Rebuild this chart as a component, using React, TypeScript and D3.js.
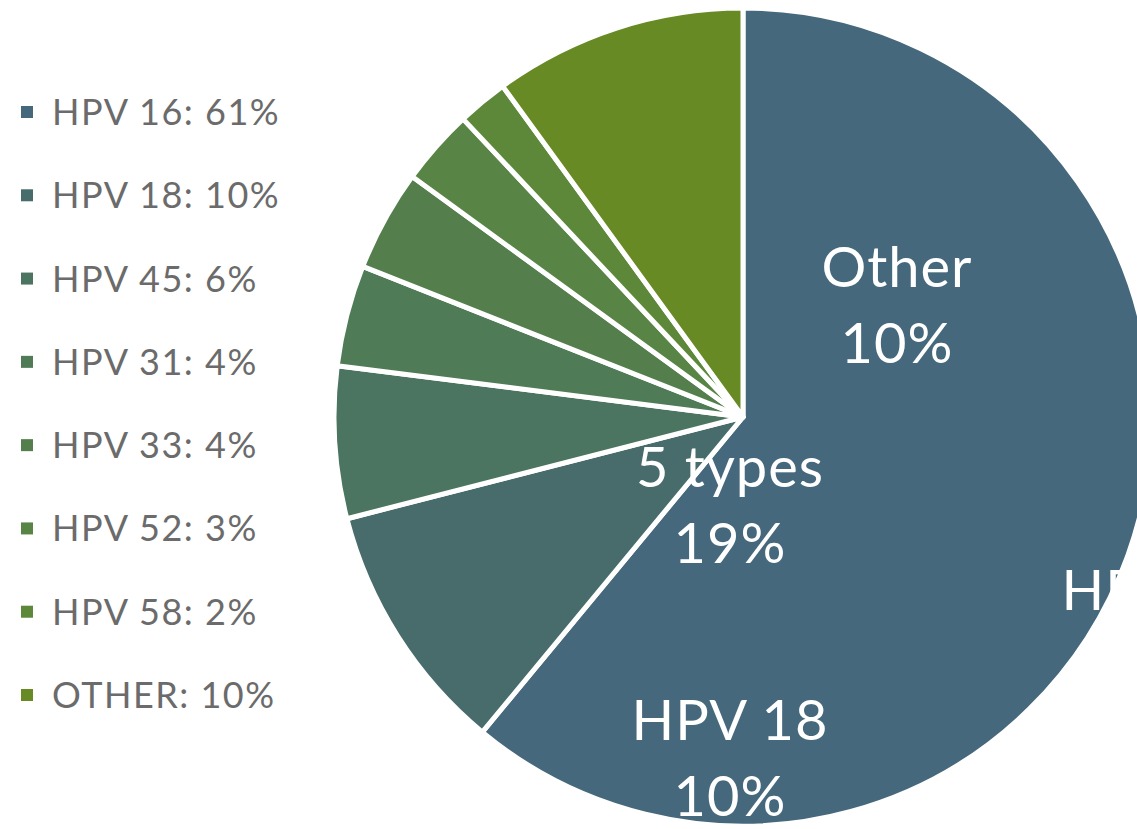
import React from "react";
import * as d3 from "d3";

const categories = ["HPV 16", "HPV 18", "HPV 45", "HPV 31", "HPV 33", "HPV 52", "HPV 58", "Other"];
const legendLabels = ["HPV 16: 61%", "HPV 18: 10%", "HPV 45: 6%", "HPV 31: 4%", "HPV 33: 4%", "HPV 52: 3%", "HPV 58: 2%", "OTHER: 10%"];
const values = [61, 10, 6, 4, 4, 3, 2, 10];
const colors = ["#46687c", "#476c6b", "#4b7560", "#4f7c56", "#547f4d", "#588445", "#5d883a", "#678a24"];

// overlay data labels (from the summarized chart)
const overlayLines = [
  ["Other", "10%"],
  ["5 types", "19%"],
  ["HPV 18", "10%"],
  ["HPV 16", "61%"],
];
const overlayPos = [
  [897, 287],
  [730, 487],
  [730, 740],
  [1160, 610],
];

const W = 1137;
const H = 829;
const cx = 743;
const cy = 417;
const R = 409;

export default function App() {
  const pie = d3.pie<number>().sort(null).value((d) => d);
  const arcs = pie(values);
  const arc = d3.arc<d3.PieArcDatum<number>>().innerRadius(0).outerRadius(R);
  const legendY = d3.scaleLinear().domain([0, 7]).range([112, 695]);

  return (
    <svg width={W} height={H} style={{ position: "absolute", left: 0, top: 0, background: "#fff" }}>
      <defs>
        <clipPath id="pieclip">
          <circle cx={cx} cy={cy} r={R} />
        </clipPath>
      </defs>
      <g transform={`translate(${cx},${cy})`}>
        {arcs.map((a, i) => (
          <path key={categories[i]} d={arc(a) || ""} fill={colors[i]} stroke="#ffffff" strokeWidth={5} strokeLinejoin="round" />
        ))}
      </g>
      <g clipPath="url(#pieclip)" fontFamily="Lato, 'Open Sans', sans-serif" fontSize={56} letterSpacing={1} fill="#ffffff" textAnchor="middle">
        {overlayLines.map((lines, i) => (
          <text key={i} x={overlayPos[i][0]} y={overlayPos[i][1]}>
            <tspan x={overlayPos[i][0]} dy={0}>{lines[0]}</tspan>
            <tspan x={overlayPos[i][0]} dy={76}>{lines[1]}</tspan>
          </text>
        ))}
      </g>
      <g fontFamily="Lato, 'Open Sans', sans-serif" fontSize={36} letterSpacing={1.5} fill="#6b6b6b">
        {legendLabels.map((l, i) => (
          <g key={l} transform={`translate(0,${legendY(i)})`}>
            <rect x={21} y={-6} width={12} height={12} fill={colors[i]} />
            <text x={52} y={13}>{l}</text>
          </g>
        ))}
      </g>
    </svg>
  );
}
